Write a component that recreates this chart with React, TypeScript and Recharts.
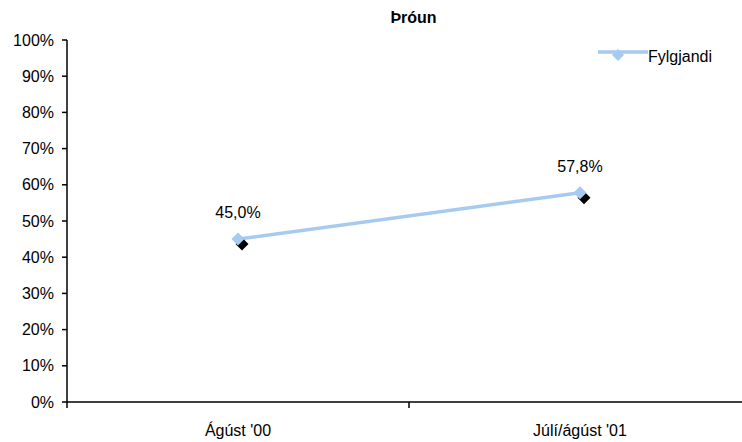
import React from "react";
import { LineChart, Line, XAxis, YAxis, Legend, LabelList } from "recharts";

const categories = ["Ágúst '00", "Júlí/ágúst '01"];
const fylgjandi = [45.0, 57.8];
const yTicks = [0, 10, 20, 30, 40, 50, 60, 70, 80, 90, 100];
const xTicks = [0, 0.5, 1, 1.5, 2];

const data = categories.map((c, i) => ({ pos: i + 0.5, name: c, value: fylgjandi[i] }));

const FONT = '"Liberation Sans", Arial, sans-serif';
const BLUE = "#a6caf0";

const diamond = (cx: number, cy: number, r: number) =>
  `${cx},${cy - r} ${cx + r},${cy} ${cx},${cy + r} ${cx - r},${cy}`;

const Dot = (props: any) => {
  const { cx, cy } = props;
  if (cx == null || cy == null) return null;
  return (
    <g>
      <polygon points={diamond(cx + 4, cy + 5, 6.5)} fill="#000" />
      <polygon points={diamond(cx, cy, 6.5)} fill={BLUE} />
    </g>
  );
};

const XTick = (props: any) => {
  const { x, y, payload } = props;
  const v = payload.value;
  if (Number.isInteger(v)) {
    return <line x1={x} x2={x} y1={y - 6} y2={y} stroke="#000" strokeWidth={1.5} />;
  }
  return (
    <text x={x} y={y + 28} textAnchor="middle" fontSize={16} fontFamily={FONT} fill="#000">
      {categories[Math.floor(v)]}
    </text>
  );
};

const LegendContent = () => (
  <svg width={150} height={30}>
    <line x1={8} x2={58} y1={8} y2={8} stroke={BLUE} strokeWidth={3.5} />
    <polygon points={diamond(28, 11, 6)} fill={BLUE} />
    <text x={58} y={18} fontSize={16} fontFamily={FONT} fill="#000">Fylgjandi</text>
  </svg>
);

export default function App() {
  return (
    <div style={{ position: "absolute", left: 0, top: 0, width: 742, height: 442, overflow: "hidden", background: "#fff" }}>
      <div style={{ position: "absolute", left: 0, top: 8, width: 827, textAlign: "center", fontFamily: FONT, fontWeight: "bold", fontSize: 16, lineHeight: "20px" }}>
        Þróun
      </div>
      <LineChart width={760} height={442} data={data} margin={{ top: 40, right: 9, left: 0, bottom: 0 }}>
        <XAxis
          dataKey="pos"
          type="number"
          domain={[0, 2]}
          ticks={xTicks}
          interval={0}
          tickLine={false}
          tickSize={6}
          tickMargin={0}
          height={40}
          axisLine={{ stroke: "#000", strokeWidth: 1.5 }}
          tick={<XTick />}
        />
        <YAxis
          type="number"
          domain={[0, 100]}
          ticks={yTicks}
          interval={0}
          width={67}
          tickSize={5}
          tickMargin={8}
          tickFormatter={(v: number) => `${v}%`}
          tick={{ fontSize: 16, fontFamily: FONT, fill: "#000" }}
          axisLine={{ stroke: "#000", strokeWidth: 1.5 }}
          tickLine={{ stroke: "#000", strokeWidth: 1.5 }}
        />
        <Legend
          layout="horizontal"
          verticalAlign="middle"
          align="center"
          content={<LegendContent />}
          wrapperStyle={{ position: "absolute", left: 590, top: 44, width: 150, height: 30 }}
        />
        <Line
          dataKey="value"
          stroke={BLUE}
          strokeWidth={3.5}
          dot={<Dot />}
          activeDot={false}
          isAnimationActive={false}
        >
          <LabelList
            dataKey="value"
            position="top"
            offset={21}
            formatter={(v: any) => `${Number(v).toFixed(1).replace(".", ",")}%`}
            style={{ fontSize: 16, fontFamily: FONT, fill: "#000" }}
          />
        </Line>
      </LineChart>
    </div>
  );
}
